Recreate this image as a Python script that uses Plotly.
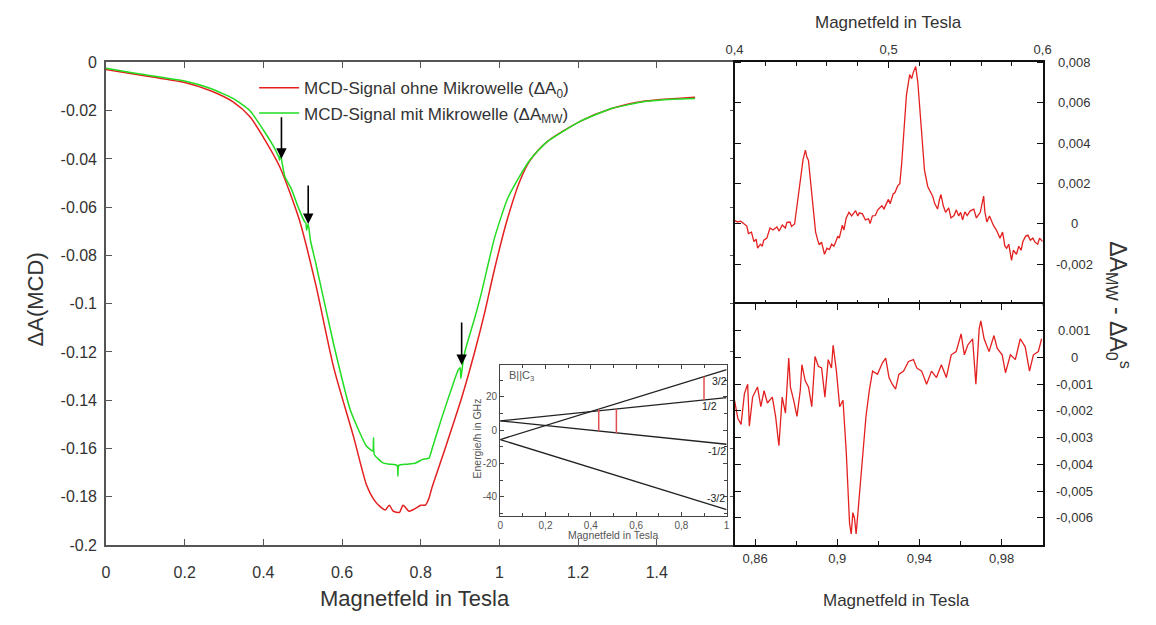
import plotly.graph_objects as go

# ---------------- main panel data ----------------
B_red = [0.0, 0.074, 0.2, 0.266, 0.324, 0.366, 0.4, 0.441, 0.491, 0.533, 0.579, 0.629, 0.662,
         0.68, 0.696, 0.71, 0.72, 0.73, 0.746, 0.755, 0.77, 0.779, 0.79, 0.80, 0.812, 0.82, 0.829,
         0.862, 0.904, 0.937, 0.962, 0.987, 1.02, 1.053, 1.078, 1.12, 1.204, 1.287, 1.37, 1.44, 1.497]
A_red = [-0.0029, -0.0049, -0.0083, -0.0117, -0.0164, -0.0225, -0.031, -0.043, -0.065, -0.092, -0.1266, -0.155, -0.175,
         -0.181, -0.184, -0.1855, -0.1835, -0.186, -0.1865, -0.1835, -0.186, -0.1855, -0.1845, -0.1835, -0.1835, -0.181, -0.176,
         -0.160, -0.139, -0.120, -0.104, -0.086, -0.065, -0.0487, -0.0406, -0.033, -0.0245, -0.019, -0.016, -0.0150, -0.0144]

B_green = [0.0, 0.074, 0.2, 0.266, 0.324, 0.366, 0.4, 0.43, 0.437, 0.440, 0.441, 0.444, 0.447, 0.455, 0.47,
           0.491, 0.505, 0.508, 0.51, 0.514, 0.52, 0.533, 0.579, 0.621, 0.662, 0.678, 0.680, 0.682, 0.704,
           0.72, 0.740, 0.742, 0.744, 0.765, 0.787, 0.805, 0.821, 0.829, 0.854, 0.887, 0.895, 0.900, 0.902,
           0.906, 0.912, 0.937, 0.954, 0.987, 1.02, 1.053, 1.078, 1.12, 1.204, 1.287, 1.37, 1.44, 1.497]
A_green = [-0.0024, -0.0045, -0.0077, -0.0108, -0.015, -0.020, -0.028, -0.036, -0.0385, -0.0395, -0.0405, -0.038, -0.041, -0.0475, -0.052,
           -0.061, -0.066, -0.0665, -0.0695, -0.067, -0.074, -0.083, -0.117, -0.144, -0.159, -0.161, -0.1555, -0.1625, -0.166,
           -0.1665, -0.167, -0.1715, -0.167, -0.1665, -0.166, -0.1645, -0.164, -0.160, -0.147, -0.131, -0.1275, -0.1265, -0.131,
           -0.126, -0.120, -0.106, -0.0957, -0.073, -0.0567, -0.0467, -0.0403, -0.033, -0.0245, -0.019, -0.0162, -0.0152, -0.0149]

main_xticks = [0, 0.2, 0.4, 0.6, 0.8, 1.0, 1.2, 1.4]
main_xtext = ["0", "0.2", "0.4", "0.6", "0.8", "1", "1.2", "1.4"]
main_yticks = [0, -0.02, -0.04, -0.06, -0.08, -0.1, -0.12, -0.14, -0.16, -0.18, -0.2]
main_ytext = ["0", "-0.02", "-0.04", "-0.06", "-0.08", "-0.1", "-0.12", "-0.14", "-0.16", "-0.18", "-0.2"]

arrow_B = [0.446, 0.514, 0.904]
arrow_A = [-0.0399, -0.0669, -0.1254]

# ---------------- inset data ----------------
B_lev = [0, 1]
E_p32 = [-5.6, 36.4]
E_p12 = [5.6, 19.6]
E_m12 = [5.6, -8.4]
E_m32 = [-5.6, -47.6]
B_trans = [0.435, 0.513, 0.90]
E_low = [-0.6, -1.6, 18.2]
E_up = [12.6, 12.8, 32.2]
lev_labels = ["3/2", "1/2", "-1/2", "-3/2"]
lev_lab_B = [0.967, 0.924, 0.957, 0.952]
lev_lab_E = [29.3, 14.75, -12.65, -40.6]
inset_xticks = [0, 0.2, 0.4, 0.6, 0.8, 1.0]
inset_xtext = ["0", "0,2", "0,4", "0,6", "0,8", "1"]
inset_yticks = [20, 0, -20, -40]
inset_ytext = ["20", "0", "-20", "-40"]

# ---------------- top right panel ----------------
B_top = [0.400, 0.402, 0.404, 0.406, 0.408, 0.409, 0.411, 0.4126, 0.414, 0.415, 0.4168, 0.418, 0.419, 0.421,
         0.422, 0.423, 0.425, 0.4275, 0.429, 0.431, 0.433, 0.434, 0.436, 0.437, 0.439, 0.440, 0.4424, 0.4445,
         0.446, 0.447, 0.448, 0.449, 0.4505, 0.4526, 0.454, 0.455, 0.4565, 0.4584, 0.460, 0.4616, 0.463, 0.4645,
         0.4658, 0.467, 0.468, 0.470, 0.471, 0.4725, 0.4743, 0.476, 0.4786, 0.480, 0.481, 0.483, 0.485, 0.487,
         0.488, 0.4895, 0.4914, 0.493, 0.4956, 0.497, 0.4999, 0.501, 0.503, 0.504, 0.506, 0.5073, 0.5085, 0.5095,
         0.5116, 0.5137, 0.515, 0.516, 0.5176, 0.519, 0.521, 0.5233, 0.5254, 0.527, 0.5286, 0.530, 0.5318, 0.533,
         0.534, 0.5355, 0.537, 0.539, 0.5405, 0.5425, 0.544, 0.5455, 0.5468, 0.548, 0.5495, 0.551, 0.553, 0.5553,
         0.557, 0.5595, 0.5605, 0.5617, 0.5625, 0.5638, 0.5655, 0.568, 0.570, 0.5723, 0.574, 0.5755, 0.5766, 0.578,
         0.5798, 0.581, 0.583, 0.5845, 0.586, 0.5872, 0.589, 0.5904, 0.592, 0.5936, 0.595, 0.5968, 0.598, 0.600]
S_top = [0.00018, 0.00010, 0.00014, 0.00002, -0.00010, -0.00047, -0.00040, -0.00087, -0.00075, -0.00120, -0.00100, -0.00110, -0.00080, -0.00070,
         -0.00050, -0.00020, -0.00030, -0.00015, -0.00035, -0.00005, -0.00020, 0.00008, 0.00010, -0.00012, 0.00000, 0.00058, 0.00200, 0.00320,
         0.00366, 0.00330, 0.00315, 0.00235, 0.00106, -0.00039, -0.00080, -0.00103, -0.00090, -0.00150, -0.00120, -0.00127, -0.00100, -0.00110,
         -0.00087, -0.00060, -0.00070, -0.00006, -0.00030, 0.00030, 0.00058, 0.00040, 0.00066, 0.00040, 0.00055, 0.00050, 0.00020, 0.00026,
         0.00002, 0.00040, 0.00042, 0.00070, 0.00090, 0.00075, 0.00122, 0.00100, 0.00150, 0.00154, 0.00190, 0.00200, 0.00300, 0.00400,
         0.00640, 0.00740, 0.00720, 0.00750, 0.00780, 0.00700, 0.00475, 0.00267, 0.00186, 0.00160, 0.00138, 0.00100, 0.00074, 0.00120,
         0.00146, 0.00090, 0.00058, 0.00080, 0.00030, 0.00042, 0.00070, 0.00040, 0.00058, 0.00020, 0.00060, 0.00042, 0.00065, 0.00074,
         0.00030, 0.00058, 0.00090, 0.00138, 0.00060, 0.00010, 0.00040, -0.00006, -0.00030, -0.00070, -0.00040, -0.00110, -0.00120, -0.00100,
         -0.00180, -0.00130, -0.00150, -0.00110, -0.00130, -0.00087, -0.00060, -0.00055, -0.00080, -0.00070, -0.00090, -0.00100, -0.00070, -0.00087]
top_xticks = [0.4, 0.5, 0.6]
top_xtext = ["0,4", "0,5", "0,6"]
top_yticks = [0.008, 0.006, 0.004, 0.002, 0.0, -0.002]
top_ytext = ["0,008", "0,006", "0,004", "0,002", "0", "-0,002"]

# ---------------- bottom right panel ----------------
B_bot = [0.850, 0.8516, 0.8532, 0.8548, 0.8564, 0.8572, 0.8588, 0.8612, 0.8628, 0.8644, 0.866, 0.8684, 0.870, 0.8716,
         0.8732, 0.8748, 0.8764, 0.8772, 0.8788, 0.8804, 0.882, 0.8828, 0.8844, 0.886, 0.8876, 0.8892, 0.8908, 0.8924,
         0.894, 0.8956, 0.8972, 0.898, 0.8996, 0.9012, 0.9028, 0.9044, 0.9060, 0.9068, 0.9076, 0.9084, 0.9092, 0.9108,
         0.9124, 0.914, 0.9156, 0.9172, 0.9196, 0.922, 0.9236, 0.9252, 0.9268, 0.9284, 0.930, 0.9323, 0.9347, 0.9371,
         0.9387, 0.9411, 0.9435, 0.9459, 0.9483, 0.9507, 0.9531, 0.9555, 0.9579, 0.9603, 0.9619, 0.9635, 0.9659, 0.9675,
         0.9691, 0.9699, 0.9715, 0.9739, 0.9763, 0.9779, 0.9803, 0.9819, 0.9843, 0.9867, 0.9891, 0.9915, 0.9936, 0.9955,
         0.9979, 0.9995]
S_bot = [-0.0016, -0.00227, -0.0025, -0.00136, -0.0010, -0.00257, -0.00148, -0.0011, -0.00184, -0.00124, -0.0017, -0.00148, -0.0022, -0.0033,
         -0.00148, -0.00208, -0.00002, -0.0011, -0.0016, -0.0022, -0.00124, -0.00027, -0.00087, -0.0011, -0.00184, 0.00004, -0.00033, -0.00039,
         -0.00148, -0.00008, -0.00039, 0.00046, -0.00051, -0.00184, -0.0016, -0.00354, -0.0062, -0.0066, -0.0058, -0.0060, -0.0066, -0.0051,
         -0.0038, -0.0022, -0.00124, -0.00051, -0.00063, -0.0002, -0.00002, -0.00075, -0.0010, -0.00118, -0.00063, -0.00051, -0.00015, -0.00008,
         -0.00039, -0.00051, -0.0010, -0.00051, -0.00075, -0.00027, -0.00075, 0.0001, 0.00022, 0.00088, 0.0001, 0.00046, 0.0007, -0.0010,
         0.00107, 0.00137, 0.0007, 0.00022, 0.00082, 0.00034, 0.0001, -0.00057, 0.0001, -0.00008, 0.0007, 0.0004, -0.00051, 0.0001,
         0.00022, 0.0007]
bot_xticks = [0.86, 0.90, 0.94, 0.98]
bot_xtext = ["0,86", "0,9", "0,94", "0,98"]
bot_yticks = [0.001, 0.0, -0.001, -0.002, -0.003, -0.004, -0.005, -0.006]
bot_ytext = ["0.001", "0", "-0,001", "-0,002", "-0,003", "-0,004", "-0,005", "-0,006"]

RED = "#e3201f"
GREEN = "#22dd22"
TXT = "#333333"
FONT = "Liberation Sans, Arial, sans-serif"

fig = go.Figure()
fig.add_trace(go.Scatter(x=B_red, y=A_red, mode="lines", line=dict(color=RED, width=1.5, shape="spline", smoothing=0.7),
                         name="MCD-Signal ohne Mikrowelle (ΔA<sub>0</sub>)", xaxis="x", yaxis="y"))
fig.add_trace(go.Scatter(x=B_green, y=A_green, mode="lines", line=dict(color=GREEN, width=1.5, shape="spline", smoothing=0.5),
                         name="MCD-Signal mit Mikrowelle (ΔA<sub>MW</sub>)", xaxis="x", yaxis="y"))

for E in (E_p32, E_p12, E_m12, E_m32):
    fig.add_trace(go.Scatter(x=B_lev, y=E, mode="lines", line=dict(color="#222", width=1.3),
                             showlegend=False, xaxis="x2", yaxis="y2", hoverinfo="skip"))
for b, lo, up in zip(B_trans, E_low, E_up):
    fig.add_trace(go.Scatter(x=[b, b], y=[lo, up], mode="lines", line=dict(color="#e05050", width=1.5),
                             showlegend=False, xaxis="x2", yaxis="y2", hoverinfo="skip"))

fig.add_trace(go.Scatter(x=B_top, y=S_top, mode="lines", line=dict(color=RED, width=1.3),
                         showlegend=False, xaxis="x3", yaxis="y3"))
fig.add_trace(go.Scatter(x=B_bot, y=S_bot, mode="lines", line=dict(color=RED, width=1.3),
                         showlegend=False, xaxis="x4", yaxis="y4"))

W, H = 1156, 625
def px_x(a, b):
    return [a / W, b / W]
def px_y(top, bot):
    return [1 - bot / H, 1 - top / H]

main_ax = dict(showgrid=False, zeroline=False, showline=True, linecolor="#555", linewidth=1.5,
               mirror="ticks", ticks="inside", ticklen=6, tickcolor="#555", tickwidth=1.2,
               tickfont=dict(size=16, color=TXT), tickmode="array")
inset_ax = dict(showgrid=False, zeroline=False, showline=True, linecolor="#444", linewidth=1.2,
                mirror="ticks", ticks="inside", ticklen=4, tickcolor="#444",
                tickfont=dict(size=10, color="#555"), tickmode="array")
right_ax = dict(showgrid=False, zeroline=False, showline=True, linecolor="#111", linewidth=2,
                mirror="ticks", ticks="inside", ticklen=6, tickcolor="#111", tickwidth=1.2,
                tickfont=dict(size=13, color=TXT), tickmode="array")

fig.update_layout(
    width=W, height=H, margin=dict(l=0, r=0, t=0, b=0),
    paper_bgcolor="white", plot_bgcolor="white",
    font=dict(family=FONT, color=TXT),
    showlegend=True,
    legend=dict(x=249 / W, y=1 - 64 / H, xanchor="left", yanchor="top", bgcolor="rgba(0,0,0,0)",
                font=dict(size=17, color=TXT), tracegroupgap=0, itemwidth=40),
    xaxis=dict(main_ax, domain=px_x(98.5, 738), range=[0, 1.6], tickvals=main_xticks, ticktext=main_xtext,
               anchor="y", ticklabelstandoff=12),
    yaxis=dict(main_ax, domain=px_y(56, 552), range=[-0.2, 0], tickvals=main_yticks, ticktext=main_ytext,
               anchor="x", ticklabelstandoff=4),
    xaxis2=dict(inset_ax, domain=px_x(499, 729), range=[0, 1], tickvals=inset_xticks, ticktext=inset_xtext,
                anchor="y2", ticklabelstandoff=0,
                minor=dict(dtick=0.1, tick0=0, ticks="inside", ticklen=2.5, tickcolor="#444")),
    yaxis2=dict(inset_ax, domain=px_y(367, 522), range=[-51.3, 39.1], tickvals=inset_yticks, ticktext=inset_ytext,
                anchor="x2", minor=dict(dtick=10, tick0=0, ticks="inside", ticklen=2.5, tickcolor="#444")),
    xaxis3=dict(right_ax, domain=px_x(737, 1050), range=[0.4, 0.6], tickvals=top_xticks, ticktext=top_xtext,
                side="top", anchor="y3",
                minor=dict(dtick=0.02, tick0=0.4, ticks="inside", ticklen=4, tickcolor="#111")),
    yaxis3=dict(right_ax, domain=px_y(55, 304), range=[-0.00395, 0.00805], tickvals=top_yticks,
                side="right", anchor="x3", showticklabels=False),
    xaxis4=dict(right_ax, domain=px_x(737, 1050), range=[0.85, 1.0], tickvals=bot_xticks, ticktext=bot_xtext,
                side="bottom", anchor="y4",
                minor=dict(dtick=0.02, tick0=0.86, ticks="inside", ticklen=4, tickcolor="#111")),
    yaxis4=dict(right_ax, domain=px_y(304, 552), range=[-0.00701, 0.00201], tickvals=bot_yticks,
                side="right", anchor="x4", showticklabels=False),
)

ann = []
# axis titles
ann.append(dict(text="Magnetfeld in Tesla", x=412 / W, y=1 - 607 / H, xref="paper", yref="paper",
                showarrow=False, font=dict(size=22, color=TXT), xanchor="center", yanchor="middle"))
ann.append(dict(text="ΔA(MCD)", x=27 / W, y=1 - 300 / H, xref="paper", yref="paper", textangle=-90,
                showarrow=False, font=dict(size=22, color=TXT), xanchor="center", yanchor="middle"))
ann.append(dict(text="Magnetfeld in Tesla", x=893 / W, y=1 - 15 / H, xref="paper", yref="paper",
                showarrow=False, font=dict(size=17, color=TXT), xanchor="center", yanchor="middle"))
ann.append(dict(text="Magnetfeld in Tesla", x=902 / W, y=1 - 609 / H, xref="paper", yref="paper",
                showarrow=False, font=dict(size=17, color=TXT), xanchor="center", yanchor="middle"))
ann.append(dict(text="ΔA<sub>MW</sub> - ΔA<sub>0</sub><sup>s</sup>", x=1128 / W, y=1 - 305 / H,
                xref="paper", yref="paper", textangle=90, showarrow=False,
                font=dict(size=23, color=TXT), xanchor="center", yanchor="middle"))
# inset titles
ann.append(dict(text="Energie/h in GHz", x=475 / W, y=1 - 443 / H, xref="paper", yref="paper", textangle=-90,
                showarrow=False, font=dict(size=10.5, color="#555"), xanchor="center", yanchor="middle"))
ann.append(dict(text="Magnetfeld in Tesla", x=614 / W, y=1 - 542 / H, xref="paper", yref="paper",
                showarrow=False, font=dict(size=10.5, color="#555"), xanchor="center", yanchor="middle"))
ann.append(dict(text="B||C<sub>3</sub>", x=0.03, y=0.93, xref="x2 domain", yref="y2 domain",
                showarrow=False, font=dict(size=11, color="#555"), xanchor="left", yanchor="middle"))
for t, b, e in zip(lev_labels, lev_lab_B, lev_lab_E):
    ann.append(dict(text=t, x=b, y=e, xref="x2", yref="y2", showarrow=False,
                    font=dict(size=10.5, color="#222"), xanchor="center", yanchor="middle"))
# right panel y tick labels (centered, as in the reference)
for v, t in zip(top_yticks, top_ytext):
    ann.append(dict(text=t, x=1.102, y=v, xref="x3 domain", yref="y3", showarrow=False,
                    font=dict(size=13, color=TXT), xanchor="center", yanchor="middle"))
for v, t in zip(bot_yticks, bot_ytext):
    ann.append(dict(text=t, x=1.102, y=v, xref="x4 domain", yref="y4", showarrow=False,
                    font=dict(size=13, color=TXT), xanchor="center", yanchor="middle"))
# arrows
for b, a, ay in zip(arrow_B, arrow_A, [-43, -40, -44]):
    ann.append(dict(text="", x=b, y=a, xref="x", yref="y", ax=0, ay=ay, showarrow=True,
                    arrowhead=2, arrowsize=1.3, arrowwidth=1.6, arrowcolor="black"))

fig.update_layout(annotations=ann)
fig.write_html("out.html")
